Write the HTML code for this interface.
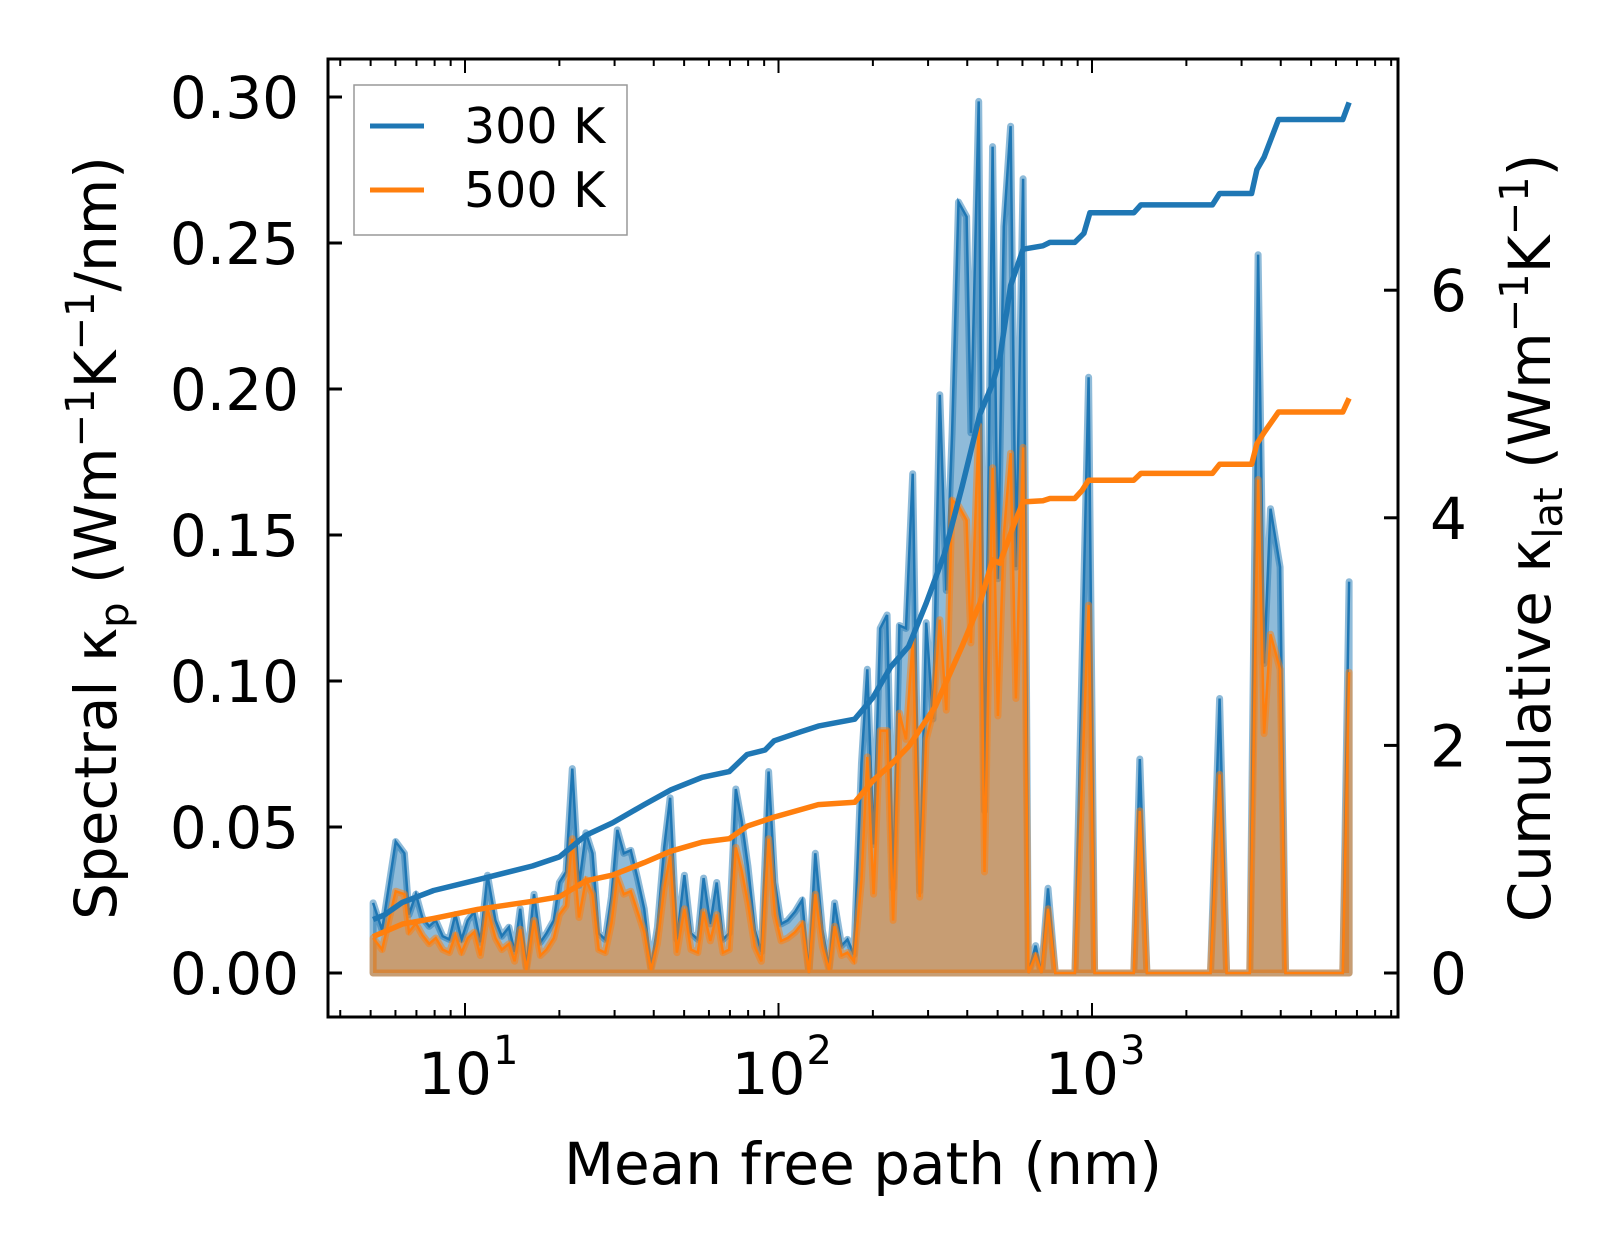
<!DOCTYPE html>
<html><head><meta charset="utf-8">
<style>
html,body{margin:0;padding:0;background:#fff;}
svg{display:block;font-family:"DejaVu Sans","Liberation Sans",sans-serif;}
</style></head>
<body>
<svg id="chart" width="1623" height="1254" viewBox="0 0 1623 1254" xmlns="http://www.w3.org/2000/svg">
<rect width="1623" height="1254" fill="#fff"/>
<g id="plot"></g>
</svg>
<script>
// ---- data ----
const mfp = [5.09,5.44,6.01,6.41,6.63,6.97,7.31,7.69,8.07,8.49,8.91,9.31,9.75,10.2,10.7,11.2,11.8,12.5,13.1,13.8,14.4,15.0,15.7,16.6,17.4,18.2,19.2,20.0,21.0,22.0,23.1,24.3,25.5,26.7,28.0,29.3,30.6,32.1,33.8,35.5,37.3,39.2,41.1,43.2,45.1,47.4,50.1,52.6,55.3,57.7,60.6,63.5,66.5,69.6,73.1,76.3,79.9,84.0,88.2,93.0,97.4,102,107,113,119,125,131,138,145,151,159,166,174,184,192,201,211,222,232,243,255,268,282,296,311,327,343,358,375,398,411,435,454,482,501,523,550,572,603,627,661,690,724,764,882,975,1019,1359,1421,1497,2388,2552,2688,3186,3388,3540,3710,3981,4141,6310,6610];
const spec300 = [0.024,0.0147,0.045,0.041,0.020,0.027,0.019,0.016,0.018,0.0126,0.0115,0.020,0.0115,0.018,0.021,0.0105,0.0335,0.018,0.0126,0.0157,0.0073,0.022,0.002,0.027,0.0105,0.0136,0.018,0.031,0.0346,0.070,0.030,0.048,0.041,0.0136,0.0115,0.026,0.049,0.041,0.042,0.0325,0.022,0.002,0.0157,0.043,0.060,0.0115,0.0335,0.0136,0.0115,0.0325,0.0168,0.031,0.0115,0.0136,0.063,0.052,0.0367,0.0147,0.0073,0.069,0.031,0.0168,0.018,0.021,0.025,0.000,0.041,0.0147,0.002,0.024,0.0094,0.0115,0.0063,0.072,0.104,0.044,0.118,0.1226,0.029,0.119,0.118,0.171,0.028,0.120,0.087,0.198,0.131,0.185,0.264,0.259,0.185,0.2985,0.0555,0.283,0.135,0.2556,0.290,0.139,0.272,0.000,0.0094,0.000,0.029,0.000,0.000,0.204,0.000,0.000,0.0733,0.000,0.000,0.094,0.000,0.000,0.246,0.106,0.159,0.139,0.000,0.000,0.134];
const spec500 = [0.012,0.008,0.028,0.027,0.014,0.017,0.013,0.010,0.012,0.008,0.007,0.013,0.007,0.012,0.014,0.006,0.022,0.012,0.008,0.010,0.004,0.015,0.001,0.018,0.006,0.008,0.012,0.020,0.023,0.046,0.019,0.032,0.027,0.008,0.007,0.017,0.033,0.027,0.028,0.021,0.014,0.001,0.010,0.029,0.040,0.007,0.022,0.008,0.007,0.021,0.011,0.020,0.007,0.008,0.043,0.035,0.024,0.009,0.004,0.046,0.020,0.011,0.012,0.014,0.017,0.000,0.027,0.009,0.001,0.016,0.006,0.007,0.004,0.032,0.074,0.027,0.083,0.083,0.018,0.089,0.080,0.114,0.026,0.080,0.089,0.121,0.090,0.162,0.160,0.155,0.113,0.1875,0.0346,0.173,0.088,0.150,0.178,0.094,0.180,0.000,0.006,0.000,0.022,0.000,0.000,0.126,0.000,0.000,0.0555,0.000,0.000,0.068,0.000,0.000,0.169,0.082,0.116,0.104,0.000,0.000,0.103];
const cumX300 = [5.09,5.53,6.31,7.94,11.0,16.4,20.0,24.3,29.6,37.3,45.4,57.1,69.6,79.4,90.6,96.8,118,134,175,200,228,260,296,338,385,439,482,508,550,603,697,734,881,942,985,1359,1432,2421,2552,3228,3357,3540,3936,6310,6610];
const cum300 = [0.47,0.51,0.62,0.725,0.82,0.94,1.02,1.21,1.32,1.48,1.61,1.72,1.77,1.92,1.96,2.04,2.12,2.17,2.23,2.42,2.69,2.87,3.25,3.68,4.27,4.91,5.18,5.40,6.04,6.36,6.39,6.42,6.42,6.50,6.68,6.68,6.75,6.75,6.85,6.85,7.06,7.17,7.50,7.50,7.65];
const cumX500 = [5.09,6.31,7.94,11.0,16.4,20.0,24.3,29.6,37.3,45.4,57.1,69.6,79.4,96.8,134,175,200,228,260,316,385,439,482,508,565,603,697,734,881,929,975,1359,1432,2421,2552,3228,3357,3540,3936,6310,6610];
const cum500 = [0.32,0.43,0.48,0.56,0.63,0.67,0.81,0.86,0.97,1.07,1.15,1.18,1.29,1.37,1.48,1.50,1.69,1.83,1.99,2.34,2.87,3.25,3.63,3.60,3.95,4.14,4.15,4.17,4.17,4.24,4.33,4.33,4.39,4.39,4.47,4.47,4.65,4.75,4.93,4.93,5.05];
const yTicksL = [0,0.05,0.10,0.15,0.20,0.25,0.30];
const yTickLabelsL = ["0.00","0.05","0.10","0.15","0.20","0.25","0.30"];
const yTicksR = [0,2,4,6];
const xDecades = [1,2,3];

// ---- axes ----
const L=328,R=1398,T=59,B=1017;
const X0=465, DEC=313.5;
const xs = v => X0 + (Math.log10(v)-1)*DEC;
const yl = v => 973 - v*2920;
const yr = v => 973 - v*113.8;
const NS="http://www.w3.org/2000/svg";
const g=document.getElementById('plot');
function mk(tag,attrs,parent){const e=document.createElementNS(NS,tag);for(const k in attrs)e.setAttribute(k,attrs[k]);(parent||g).appendChild(e);return e;}

function linePath(xa,ya,fy){return xa.map((x,i)=>(i?'L':'M')+xs(x).toFixed(1)+','+fy(ya[i]).toFixed(1)).join(' ');}
function areaPath(xa,ya){return linePath(xa,ya,yl)+' L'+xs(xa[xa.length-1]).toFixed(1)+','+yl(0)+' L'+xs(xa[0]).toFixed(1)+','+yl(0)+' Z';}

let e;
e=mk('path',{d:areaPath(mfp,spec300),fill:'#1f77b4','fill-opacity':0.5,stroke:'#1f77b4','stroke-opacity':0.5,'stroke-width':7,'stroke-linejoin':'round'});


e=mk('path',{d:linePath(mfp,spec300,yl),fill:'none',stroke:'#1f77b4','stroke-width':2.5});


e=mk('path',{d:areaPath(mfp,spec500),fill:'#ff7f0e','fill-opacity':0.5,stroke:'#ff7f0e','stroke-opacity':0.5,'stroke-width':7,'stroke-linejoin':'round'});


e=mk('path',{d:linePath(mfp,spec500,yl),fill:'none',stroke:'#ff7f0e','stroke-width':2.5});


e=mk('path',{d:linePath(cumX300,cum300,yr),fill:'none',stroke:'#1f77b4','stroke-width':5.5,'stroke-linejoin':'round'});


e=mk('path',{d:linePath(cumX500,cum500,yr),fill:'none',stroke:'#ff7f0e','stroke-width':5.5,'stroke-linejoin':'round'});



e=mk('rect',{x:L,y:T,width:R-L,height:B-T,fill:'none',stroke:'#000','stroke-width':3});



yTicksL.forEach((v,i)=>{
  const y=yl(v);
  mk('line',{x1:L,x2:L+14,y1:y,y2:y,stroke:'#000','stroke-width':3});
  const t=mk('text',{x:299,y:y+21,'text-anchor':'end','font-size':58});
  t.textContent=yTickLabelsL[i];
  
  
});
yTicksR.forEach(v=>{
  const y=yr(v);
  mk('line',{x1:R-14,x2:R,y1:y,y2:y,stroke:'#000','stroke-width':3});
  const t=mk('text',{x:1430,y:y+21,'text-anchor':'start','font-size':58});
  t.textContent=String(v);
  
  
});
for(let d=0;d<=3;d++){
  for(let m=1;m<=9;m++){
    const v=m*Math.pow(10,d);
    const x=xs(v);
    if(x<L||x>R)continue;
    const len=m===1?14:7;
    mk('line',{x1:x,x2:x,y1:B,y2:B-len,stroke:'#000','stroke-width':2});
    mk('line',{x1:x,x2:x,y1:T,y2:T+len,stroke:'#000','stroke-width':2});
  }
}
xDecades.forEach(d=>{
  const x=xs(Math.pow(10,d));
  const t=mk('text',{x:x-10,y:1094,'text-anchor':'middle','font-size':58});
  t.textContent='10';
  
  
  const s=mk('text',{x:x+28,y:1064,'text-anchor':'start','font-size':40});
  s.textContent=String(d);
});
</script>
<svg style="position:absolute;left:0;top:0" width="1623" height="1254" xmlns="http://www.w3.org/2000/svg" font-family="DejaVu Sans, Liberation Sans, sans-serif">
<text x="863" y="1184" text-anchor="middle" font-size="58">Mean free path (nm)</text>
<text transform="translate(116,538) rotate(-90)" text-anchor="middle" font-size="58">Spectral κ<tspan font-size="40" dy="12">p</tspan><tspan dy="-12"> (Wm</tspan><tspan font-size="40" dy="-22">−1</tspan><tspan dy="22">K</tspan><tspan font-size="40" dy="-22">−1</tspan><tspan dy="22">/nm)</tspan></text>
<text transform="translate(1550,538) rotate(-90)" text-anchor="middle" font-size="58">Cumulative κ<tspan font-size="40" dy="12">lat</tspan><tspan dy="-12"> (Wm</tspan><tspan font-size="40" dy="-22">−1</tspan><tspan dy="22">K</tspan><tspan font-size="40" dy="-22">−1</tspan><tspan dy="22">)</tspan></text>
<g>
<rect x="354" y="85" width="273" height="150" fill="#fff" fill-opacity="0.8" stroke="#999" stroke-width="1.5"/>
<line x1="370" x2="424" y1="126" y2="126" stroke="#1f77b4" stroke-width="5"/>
<text x="464" y="143" font-size="49">300 K</text>
<line x1="370" x2="424" y1="190" y2="190" stroke="#ff7f0e" stroke-width="5"/>
<text x="464" y="207" font-size="49">500 K</text>
</g>
</svg>
</body></html>
